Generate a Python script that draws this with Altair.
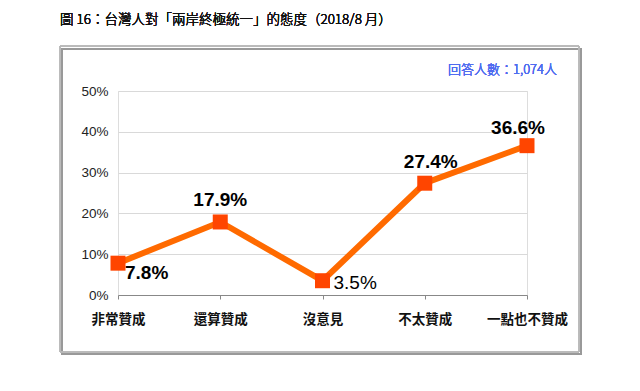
import altair as alt
import pandas as pd

categories = ["非常贊成", "還算贊成", "沒意見", "不太贊成", "一點也不贊成"]
values = [7.8, 17.9, 3.5, 27.4, 36.6]
labels = ["7.8%", "17.9%", "3.5%", "27.4%", "36.6%"]
y_ticks = [0, 10, 20, 30, 40, 50]
title_text = "圖 16：台灣人對「兩岸終極統一」的態度（2018/8 月）"
note_text = "回答人數：1,074人"

df = pd.DataFrame({"cat": categories, "val": values, "lab": labels})

FONT = "Liberation Sans, Noto Sans CJK TC"
W, H = 409, 204

x_enc = alt.X("cat:N", sort=categories,
              scale=alt.Scale(type="point", padding=0),
              axis=alt.Axis(title=None, labelAngle=0, labelFontSize=13.5, labelColor="#111",
                            labelFontWeight="bold", labelFont="Noto Sans CJK TC",
                            labelPadding=13, domainColor="#888", tickColor="#888",
                            tickSize=4, grid=False))
y_enc = alt.Y("val:Q", scale=alt.Scale(domain=[0, 50], nice=False),
              axis=alt.Axis(title=None, values=y_ticks, labelExpr="datum.value + '%'",
                            labelFontSize=13.5, labelColor="#222", labelFont=FONT,
                            labelPadding=10, ticks=False, domain=False,
                            gridColor="#d9d9d9", gridWidth=1))

base = alt.Chart(df)

frame_shadow = base.mark_rect(fill=None, stroke="#999999", strokeWidth=2).encode(
    x=alt.value(-56), x2=alt.value(463), y=alt.value(-42), y2=alt.value(263))
frame = base.mark_rect(fill=None, stroke="#b8b8b8", strokeWidth=1).encode(
    x=alt.value(-58), x2=alt.value(461), y=alt.value(-45), y2=alt.value(261))

line = base.mark_line(color="#FF6A00", strokeWidth=6).encode(x=x_enc, y=y_enc)
pts = base.mark_square(color="#FF4500", size=225, opacity=1,
                       cornerRadius=2).encode(x=x_enc, y=y_enc)

def lab(cat, dx, dy, align="center", weight="bold"):
    return base.transform_filter(alt.datum.cat == cat).mark_text(
        font=FONT, fontSize=19, fontWeight=weight, color="black",
        dx=dx, dy=dy, align=align, baseline="middle").encode(
        x=alt.X("cat:N", sort=categories, scale=alt.Scale(type="point", padding=0)),
        y=alt.Y("val:Q", scale=alt.Scale(domain=[0, 50], nice=False)),
        text="lab:N")

labs = [
    lab(categories[0], 7, 10, align="left"),
    lab(categories[1], 0, -22),
    lab(categories[2], 11, 2, align="left", weight="normal"),
    lab(categories[3], 6, -21),
    lab(categories[4], -9, -18),
]

title = base.mark_text(font="Noto Sans CJK TC", fontSize=13.5, fontWeight=300, color="#111",
                       align="left", baseline="middle").encode(
    x=alt.value(-58), y=alt.value(-71), text=alt.value(title_text))
note = base.mark_text(font="Noto Sans CJK TC", fontSize=13, fontWeight=300, color="#4F6BF0",
                      align="right", baseline="middle").encode(
    x=alt.value(439), y=alt.value(-21), text=alt.value(note_text))

chart = alt.layer(frame_shadow, frame, title, note, line, pts, *labs).properties(
    width=W, height=H,
    autosize=alt.AutoSizeParams(type="none"),
    padding={"left": 110, "top": 83, "right": 105, "bottom": 88},
).configure_view(stroke="#888", strokeWidth=1).configure(background="white")

chart.save("out.html", embed_options={"renderer": "svg", "actions": False})
